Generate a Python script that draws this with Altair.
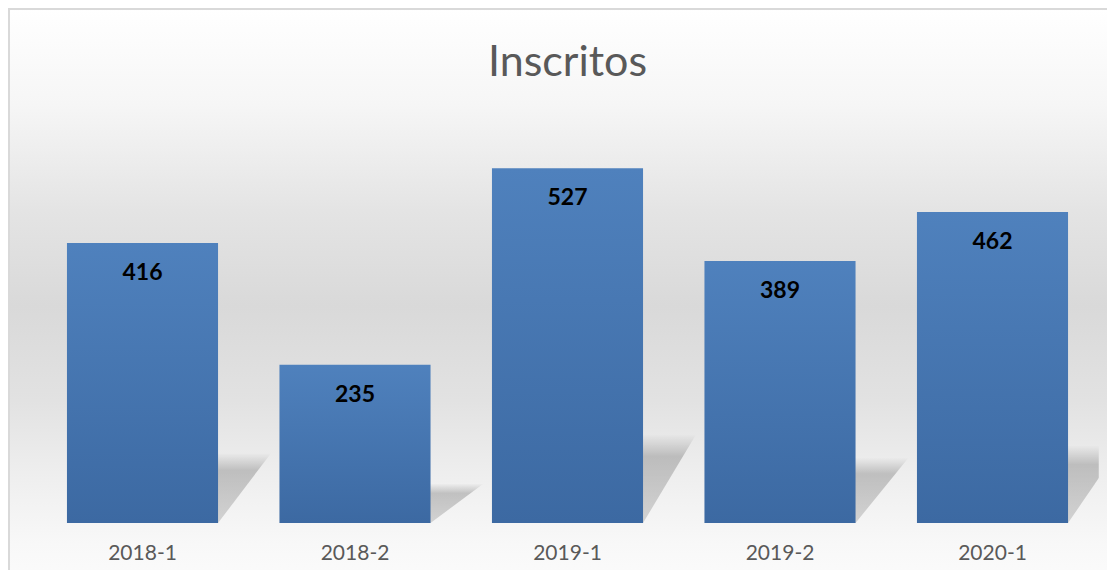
import altair as alt
import pandas as pd

categories = ["2018-1", "2018-2", "2019-1", "2019-2", "2020-1"]
values = [416, 235, 527, 389, 462]
title_text = "Inscritos"

W, H = 1062.5, 404
P_INNER = 0.289
HALF = (1 - P_INNER) / 2
SHADOW_SHIFT = 0.25
SHADOW_RATIO = 0.25

df = pd.DataFrame({"cat": categories, "val": values})

shadow_rows = []
for i, (c, v) in enumerate(zip(categories, values)):
    cx = i + 0.5
    shadow_rows.append({"cat": c, "sy": 0, "xl": cx - HALF, "xr": cx + HALF})
    shadow_rows.append({"cat": c, "sy": v * SHADOW_RATIO,
                        "xl": cx - HALF + SHADOW_SHIFT, "xr": cx + HALF + SHADOW_SHIFT})
shadow_df = pd.DataFrame(shadow_rows)

yscale = alt.Scale(domain=[0, 600])

bg_grad = alt.Gradient(
    gradient="linear", x1=0, x2=0, y1=0, y2=1,
    stops=[
        alt.GradientStop(offset=0.0, color="#ffffff"),
        alt.GradientStop(offset=0.16, color="#f6f6f6"),
        alt.GradientStop(offset=0.34, color="#e4e4e4"),
        alt.GradientStop(offset=0.5, color="#d9d9d9"),
        alt.GradientStop(offset=0.66, color="#e2e2e2"),
        alt.GradientStop(offset=0.78, color="#eeeeee"),
        alt.GradientStop(offset=0.9, color="#f8f8f8"),
        alt.GradientStop(offset=1.0, color="#fdfdfd"),
    ],
)

bg = alt.Chart(pd.DataFrame({"k": [0]})).mark_rect(
    fill=bg_grad, stroke="#d9d9d9", strokeWidth=2
).encode(
    x=alt.value(-27.25), x2=alt.value(W + 40),
    y=alt.value(-110), y2=alt.value(H + 80),
)

title_mark = alt.Chart(pd.DataFrame({"t": [title_text]})).mark_text(
    font="Lato", fontSize=43, color="#595959", align="center", baseline="alphabetic",
).encode(
    text="t:N", x=alt.value(W / 2), y=alt.value(-43),
)

shadow_grad = alt.Gradient(
    gradient="linear", x1=0, x2=0, y1=1, y2=0,
    stops=[
        alt.GradientStop(offset=0.0, color="rgba(0,0,0,0.14)"),
        alt.GradientStop(offset=0.75, color="rgba(0,0,0,0.2)"),
        alt.GradientStop(offset=1.0, color="rgba(0,0,0,0.0)"),
    ],
)

shadow = alt.Chart(shadow_df).mark_area(
    orient="horizontal", fill=shadow_grad, clip=True
).encode(
    y=alt.Y("sy:Q", scale=yscale, axis=None),
    x=alt.X("xl:Q", scale=alt.Scale(domain=[0, 5], nice=False, zero=False), axis=None),
    x2="xr:Q",
    detail="cat:N",
)

bar_grad = alt.Gradient(
    gradient="linear", x1=0, x2=0, y1=0, y2=1,
    stops=[
        alt.GradientStop(offset=0.0, color="#4f81bd"),
        alt.GradientStop(offset=1.0, color="#3c69a2"),
    ],
)

xband = alt.X(
    "cat:N", sort=categories, title=None,
    scale=alt.Scale(paddingInner=P_INNER, paddingOuter=P_INNER / 2),
    axis=alt.Axis(orient="bottom", labelAngle=0, ticks=False, domain=False,
                  labelFont="Lato", labelFontSize=21, labelColor="#595959",
                  labelPadding=19, grid=False, zindex=1),
)

bars = alt.Chart(df).mark_bar(fill=bar_grad).encode(
    x=xband,
    y=alt.Y("val:Q", scale=yscale, axis=None),
)

labels = alt.Chart(df).mark_text(
    font="Lato", fontSize=23, fontWeight="bold", color="#000000",
    baseline="middle", dy=30,
).encode(
    x=alt.X("cat:N", sort=categories),
    y=alt.Y("val:Q", scale=yscale),
    text="val:Q",
)

front = alt.layer(bars, labels)

chart = alt.layer(bg, title_mark, shadow, front).resolve_scale(x="independent").properties(
    width=W, height=H,
    autosize=alt.AutoSizeParams(type="none"),
    padding={"left": 28.25, "top": 111, "right": 8.25, "bottom": 47},
).configure_view(stroke=None)

chart.save("out.html", embed_options={"renderer": "svg", "actions": False})
